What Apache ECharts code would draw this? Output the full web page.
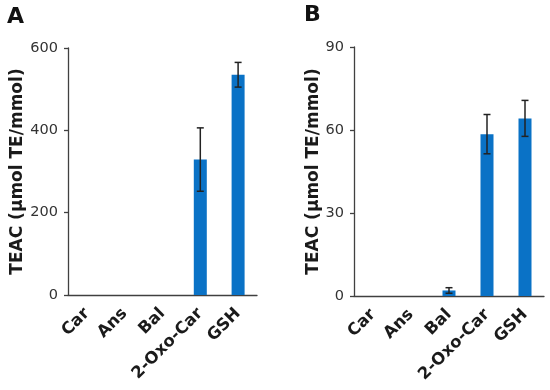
<!DOCTYPE html>
<html>
<head>
<meta charset="utf-8">
<script src="https://cdn.jsdelivr.net/npm/echarts@6/dist/echarts.min.js"></script>
<style>
html,body{margin:0;padding:0;background:#fff;}
#chart{width:550px;height:390px;}
</style>
</head>
<body>
<div id="chart"></div>
<script>
var categories = ['Car', 'Ans', 'Bal', '2-Oxo-Car', 'GSH'];
var teacA = [0, 0, 0, 329, 535];
var errA = [0, 0, 0, 77, 30];
var teacB = [0, 0, 2, 58.5, 64.2];
var errB = [0, 0, 1, 7.1, 6.5];
var ticksA = {min: 0, max: 600, interval: 200};
var ticksB = {min: 0, max: 90, interval: 30};
var yName = 'TEAC (µmol TE/mmol)';

var FONT = '"DejaVu Sans", "Liberation Sans", Arial, sans-serif';
var BAR = '#0a72c6';

function errData(vals, errs) {
  var out = [];
  for (var i = 0; i < vals.length; i++) {
    if (errs[i] > 0) out.push([i, vals[i], errs[i]]);
  }
  return out;
}

function renderErr(params, api) {
  var x = api.value(0), v = api.value(1), e = api.value(2);
  var top = api.coord([x, v + e]);
  var bot = api.coord([x, Math.max(v - e, 0)]);
  var cap = 3.5;
  var style = {stroke: '#222', lineWidth: 1.5};
  return {
    type: 'group',
    children: [
      {type: 'line', shape: {x1: top[0], y1: top[1], x2: bot[0], y2: bot[1]}, style: style},
      {type: 'line', shape: {x1: top[0] - cap, y1: top[1], x2: top[0] + cap, y2: top[1]}, style: style},
      {type: 'line', shape: {x1: bot[0] - cap, y1: bot[1], x2: bot[0] + cap, y2: bot[1]}, style: style}
    ]
  };
}

function xAxis(gi) {
  return {
    type: 'category', gridIndex: gi, data: categories,
    axisLine: {lineStyle: {color: '#404040', width: 1.3}},
    axisTick: {show: false},
    axisLabel: {rotate: 45, interval: 0, fontFamily: FONT, fontWeight: 'bold', fontSize: 16.5, color: '#1a1a1a', margin: 16}
  };
}
function yAxis(gi, t, gap) {
  return {
    type: 'value', gridIndex: gi, min: t.min, max: t.max, interval: t.interval,
    name: yName, nameLocation: 'middle', nameGap: gap, nameRotate: 90,
    nameTextStyle: {fontFamily: FONT, fontWeight: 'bold', fontSize: 17, color: '#1a1a1a'},
    splitLine: {show: false},
    axisLine: {show: true, lineStyle: {color: '#404040', width: 1.3}},
    axisTick: {show: true, length: 4, lineStyle: {color: '#404040', width: 1.3}},
    axisLabel: {fontFamily: FONT, fontSize: 14.5, color: '#333', margin: 10}
  };
}

var chart = echarts.init(document.getElementById('chart'), null, {renderer: 'canvas'});
chart.setOption({
  backgroundColor: '#fff',
  animation: false,
  title: [
    {text: 'A', left: 7, top: 6, padding: 0, textStyle: {fontFamily: FONT, fontWeight: 'bold', fontSize: 22, color: '#111'}},
    {text: 'B', left: 304, top: 4, padding: 0, textStyle: {fontFamily: FONT, fontWeight: 'bold', fontSize: 22, color: '#111'}}
  ],
  grid: [
    {left: 68, width: 189, top: 48, height: 247},
    {left: 354, width: 190, top: 47, height: 249}
  ],
  xAxis: [xAxis(0), xAxis(1)],
  yAxis: [yAxis(0, ticksA, 40), yAxis(1, ticksB, 31)],
  series: [
    {type: 'bar', xAxisIndex: 0, yAxisIndex: 0, data: teacA, barWidth: 13, itemStyle: {color: BAR}},
    {type: 'custom', xAxisIndex: 0, yAxisIndex: 0, data: errData(teacA, errA), renderItem: renderErr, z: 5},
    {type: 'bar', xAxisIndex: 1, yAxisIndex: 1, data: teacB, barWidth: 13, itemStyle: {color: BAR}},
    {type: 'custom', xAxisIndex: 1, yAxisIndex: 1, data: errData(teacB, errB), renderItem: renderErr, z: 5}
  ]
});
</script>
</body>
</html>
